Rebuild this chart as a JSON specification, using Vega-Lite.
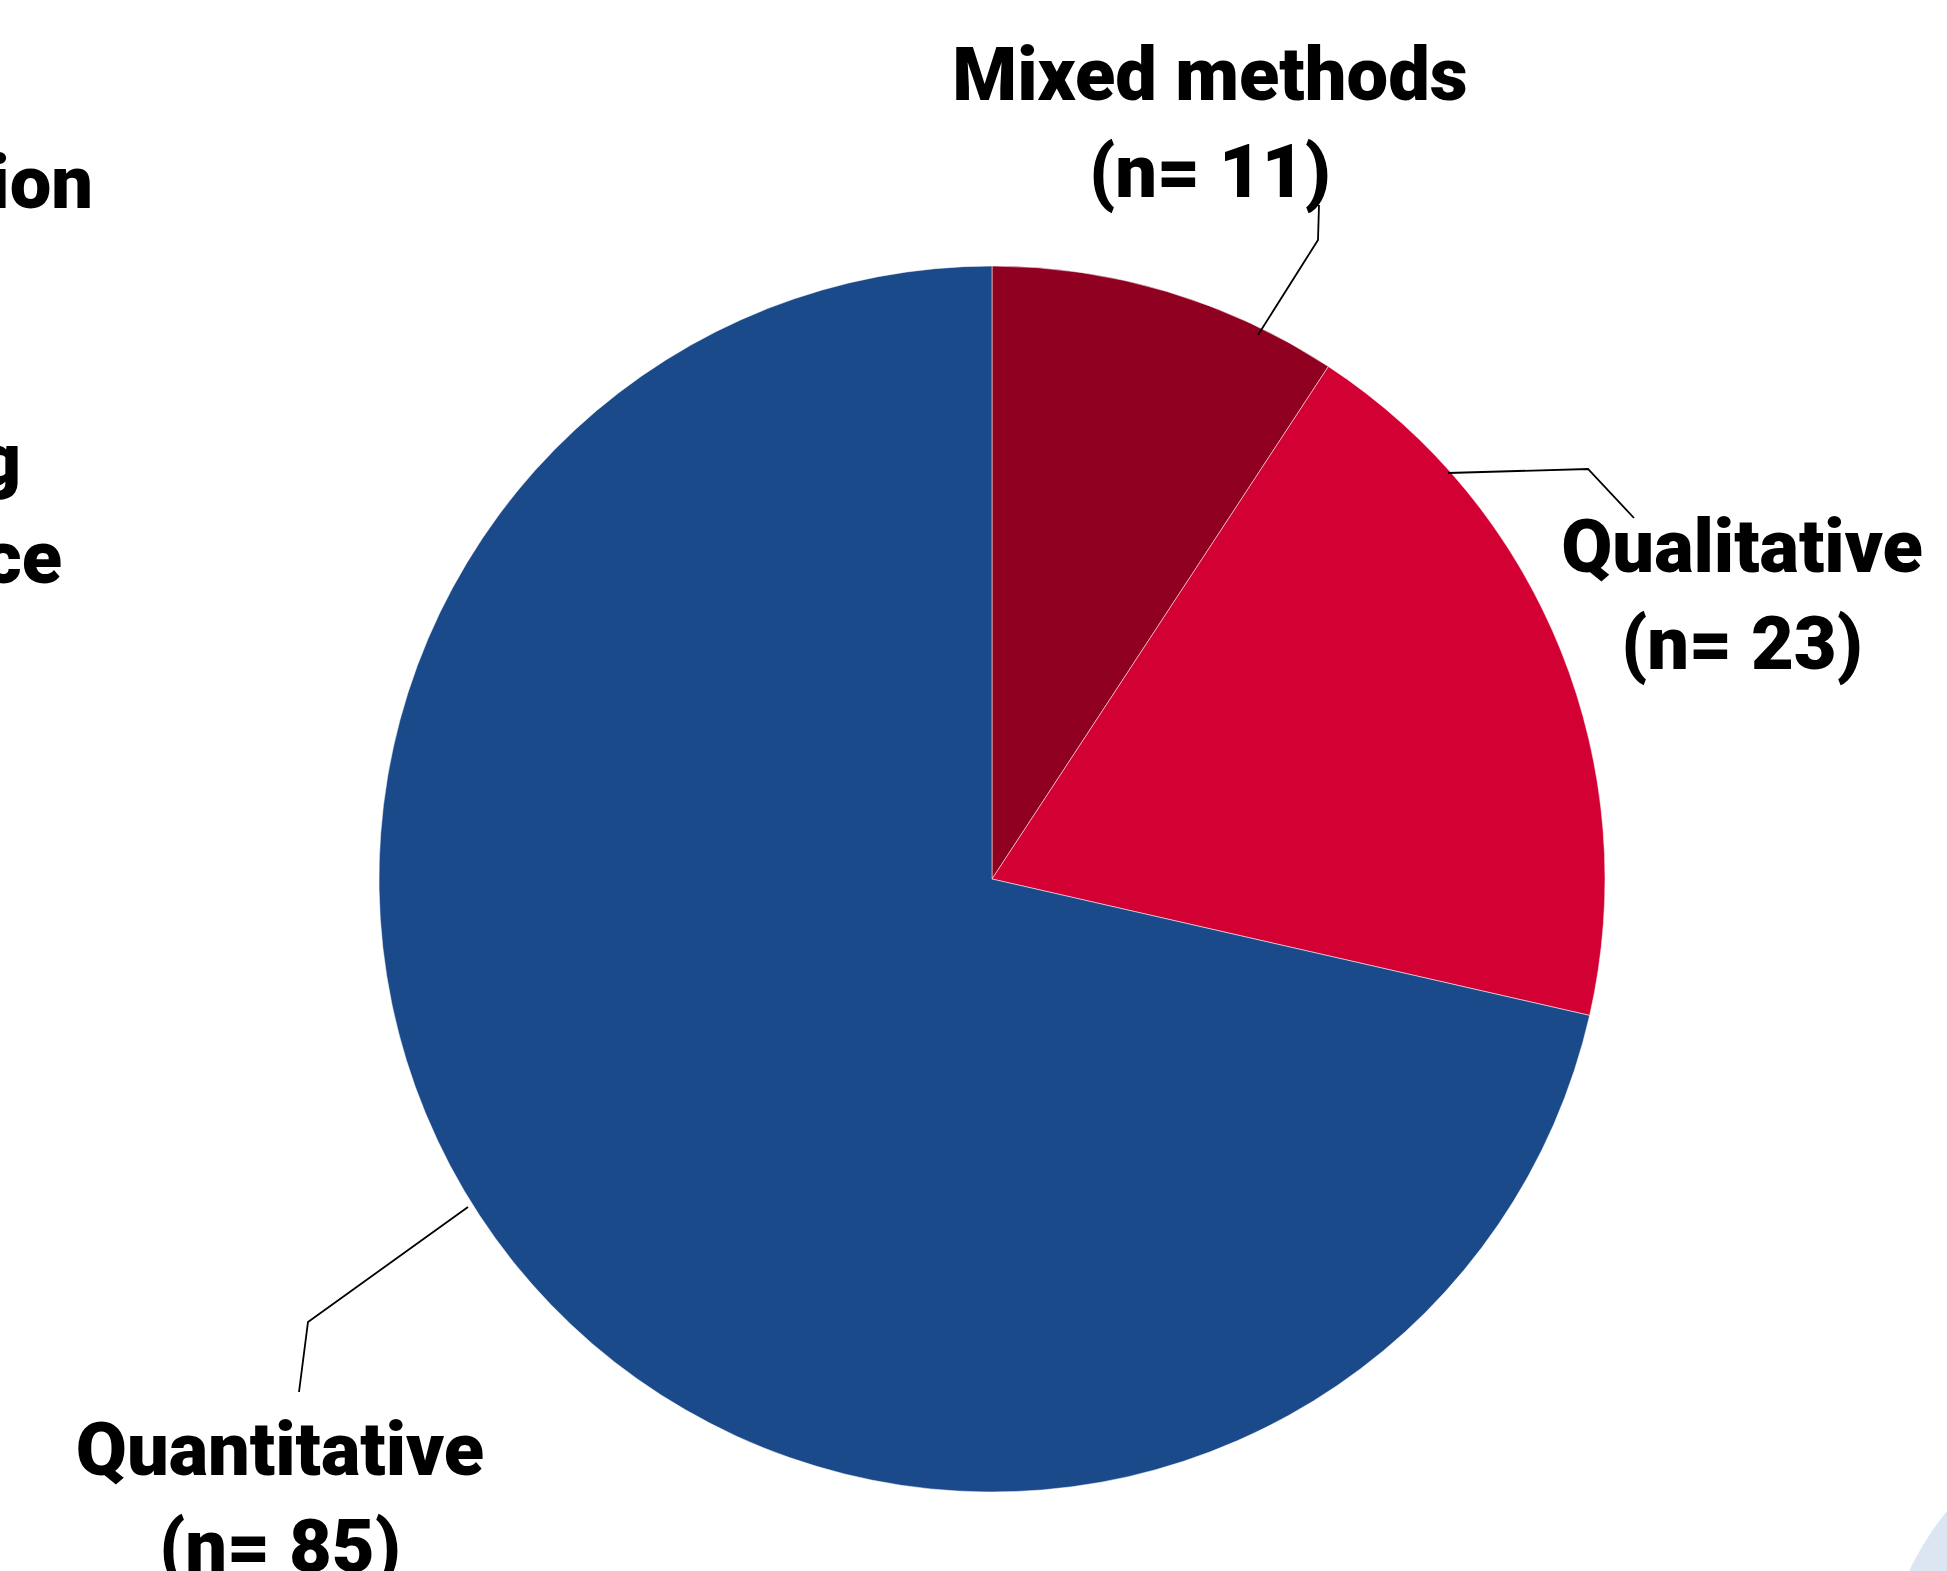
{
  "$schema": "https://vega.github.io/schema/vega-lite/v6.json",
  "width": 1947,
  "height": 1571,
  "autosize": {"type": "none"},
  "padding": 0,
  "background": "white",
  "config": {"view": {"stroke": null}},
  "resolve": {"scale": {"theta": "independent"}},
  "datasets": {
    "pie": [
      {"method": "Mixed methods", "n": 11, "order": 1},
      {"method": "Qualitative", "n": 23, "order": 2},
      {"method": "Quantitative", "n": 85, "order": 3}
    ],
    "labels": [
      {"label": "Mixed methods\n(n= 11)", "lx": 1210, "ly": 100},
      {"label": "Qualitative\n(n= 23)", "lx": 1742, "ly": 572},
      {"label": "Quantitative\n(n= 85)", "lx": 280, "ly": 1475}
    ],
    "leaders": [
      {"id": "m", "k": 1, "px": 1258, "py": 335},
      {"id": "m", "k": 2, "px": 1318, "py": 240},
      {"id": "m", "k": 3, "px": 1319, "py": 205},
      {"id": "q", "k": 1, "px": 1448, "py": 473},
      {"id": "q", "k": 2, "px": 1588, "py": 469},
      {"id": "q", "k": 3, "px": 1634, "py": 518},
      {"id": "t", "k": 1, "px": 468, "py": 1207},
      {"id": "t", "k": 2, "px": 308, "py": 1322},
      {"id": "t", "k": 3, "px": 299, "py": 1392}
    ],
    "fragments": [
      {"t": "ion", "fx": 93, "fy": 208},
      {"t": "g", "fx": 21, "fy": 485},
      {"t": "ce", "fx": 62, "fy": 583}
    ],
    "deco": [
      {"dx": 2180, "dy": 1700, "v": 1}
    ]
  },
  "layer": [
    {
      "data": {"name": "deco"},
      "mark": {"type": "arc", "outerRadius": 300, "color": "#DCE6F2"},
      "encoding": {
        "x": {"field": "dx", "type": "quantitative", "scale": {"domain": [0, 1947], "nice": false, "zero": false}, "axis": null},
        "y": {"field": "dy", "type": "quantitative", "scale": {"domain": [0, 1571], "nice": false, "zero": false, "reverse": true}, "axis": null},
        "theta": {"field": "v", "type": "quantitative", "scale": {"type": "linear", "domain": [0, 1], "range": [0, 6.2832]}, "stack": false}
      }
    },
    {
      "data": {"name": "pie"},
      "mark": {"type": "arc", "outerRadius": 613, "stroke": "white", "strokeWidth": 0.5},
      "encoding": {
        "x": {"datum": 992, "type": "quantitative", "scale": {"domain": [0, 1947], "nice": false, "zero": false}, "axis": null},
        "y": {"datum": 879, "type": "quantitative", "scale": {"domain": [0, 1571], "nice": false, "zero": false, "reverse": true}, "axis": null},
        "theta": {"field": "n", "type": "quantitative", "stack": true},
        "order": {"field": "order", "type": "quantitative"},
        "color": {"field": "method", "type": "nominal", "legend": null,
          "scale": {"domain": ["Mixed methods", "Qualitative", "Quantitative"], "range": ["#8F0021", "#D30034", "#1B4A8B"]}}
      }
    },
    {
      "data": {"name": "leaders"},
      "mark": {"type": "line", "color": "black", "strokeWidth": 1.8},
      "encoding": {
        "x": {"field": "px", "type": "quantitative", "scale": {"domain": [0, 1947], "nice": false, "zero": false}, "axis": null},
        "y": {"field": "py", "type": "quantitative", "scale": {"domain": [0, 1571], "nice": false, "zero": false, "reverse": true}, "axis": null},
        "detail": {"field": "id"},
        "order": {"field": "k", "type": "quantitative"}
      }
    },
    {
      "data": {"name": "labels"},
      "mark": {"type": "text", "font": "Roboto", "fontWeight": 900, "fontSize": 74, "lineHeight": 97, "lineBreak": "\n", "align": "center", "baseline": "alphabetic", "color": "black"},
      "encoding": {
        "x": {"field": "lx", "type": "quantitative", "scale": {"domain": [0, 1947], "nice": false, "zero": false}, "axis": null},
        "y": {"field": "ly", "type": "quantitative", "scale": {"domain": [0, 1571], "nice": false, "zero": false, "reverse": true}, "axis": null},
        "text": {"field": "label"}
      }
    },
    {
      "data": {"name": "fragments"},
      "mark": {"type": "text", "font": "Roboto", "fontWeight": 900, "fontSize": 74, "align": "right", "baseline": "alphabetic", "color": "black"},
      "encoding": {
        "x": {"field": "fx", "type": "quantitative", "scale": {"domain": [0, 1947], "nice": false, "zero": false}, "axis": null},
        "y": {"field": "fy", "type": "quantitative", "scale": {"domain": [0, 1571], "nice": false, "zero": false, "reverse": true}, "axis": null},
        "text": {"field": "t"}
      }
    }
  ]
}
